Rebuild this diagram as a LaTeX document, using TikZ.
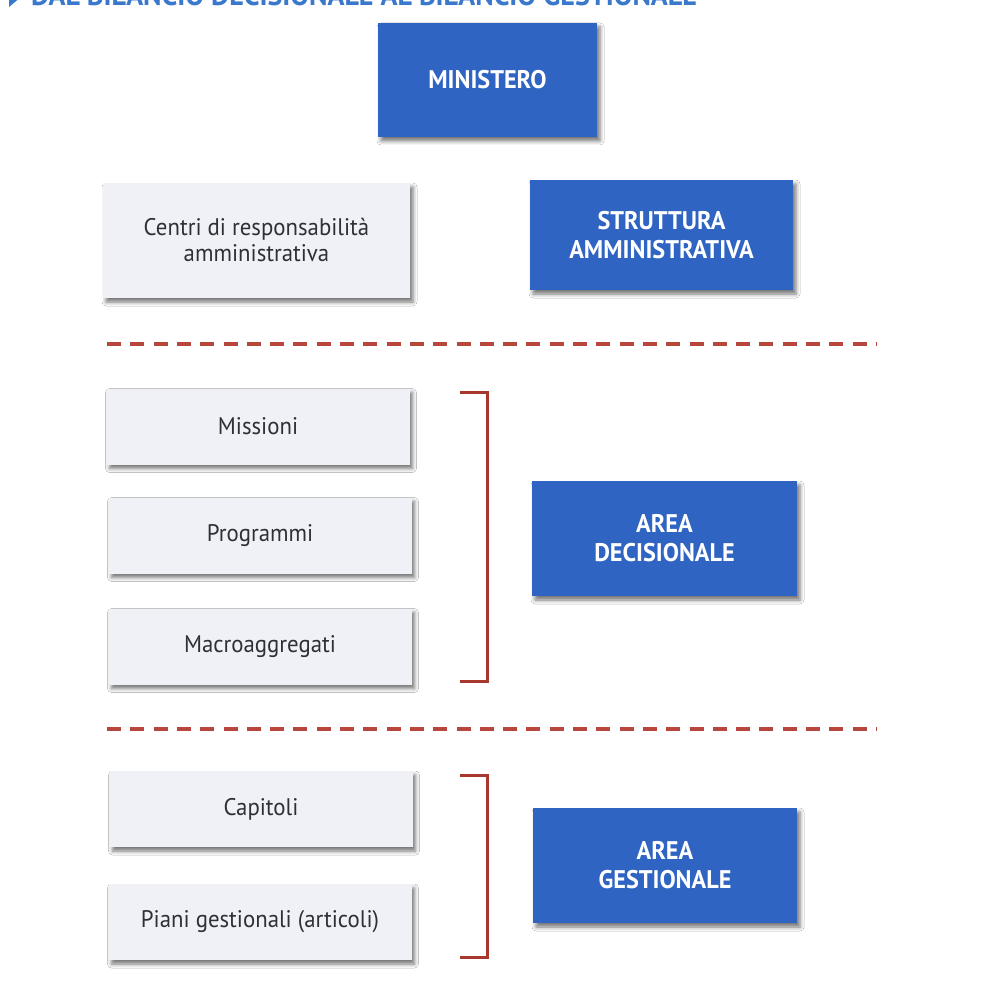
\documentclass[tikz,border=0pt]{standalone}
\usepackage{fontspec}
\setmainfont[FakeStretch=0.95]{PT Sans}
\usetikzlibrary{shadows.blur}

\definecolor{mblue}{HTML}{2F64C3}
\definecolor{titleblue}{HTML}{3A78CC}
\definecolor{lightbox}{HTML}{EFF1F6}
\definecolor{textgray}{HTML}{2E3035}
\definecolor{dashred}{HTML}{B8463A}
\definecolor{bracketred}{HTML}{A8382E}

\tikzset{
  boxshadow/.style={blur shadow={shadow xshift=3pt, shadow yshift=-4pt,
      shadow blur radius=4pt, shadow opacity=55}},
  bluebox/.style={boxshadow, fill=mblue, text=white, align=center,
      inner sep=0pt, font=\fontsize{25.5}{29}\selectfont\bfseries},
  lightbox/.style={boxshadow, fill=lightbox, text=textgray, align=center,
      inner sep=0pt, minimum width=303pt, minimum height=76pt,
      font=\fontsize{24}{26}\selectfont},
  divider/.style={dashred, line width=3.5pt, dash pattern=on 14pt off 9.3pt},
  bracket/.style={bracketred, line width=3pt},
}

\begin{document}
\begin{tikzpicture}[x=1pt, y=-1pt]
  \useasboundingbox (0,0) rectangle (991,984);
  \fill[white] (0,0) rectangle (991,984);

  % title strip, running off the top edge
  \fill[titleblue] (9,-12) -- (21,-3) -- (9,7) -- cycle;
  \node[anchor=base west, inner sep=0pt, text=titleblue,
        font=\fontsize{29.5}{30}\selectfont\bfseries] (title) at (31,6)
        {DAL BILANCIO DECISIONALE AL BILANCIO GESTIONALE};

  % blue headings
  \node[bluebox, minimum width=219pt, minimum height=114pt] (min) at (487.5,80) {MINISTERO};
  \node[bluebox, minimum width=263pt, minimum height=110pt] (strut) at (661.5,235)
        {STRUTTURA\\AMMINISTRATIVA};
  \node[bluebox, minimum width=265pt, minimum height=115pt] (adec) at (664.5,538.5)
        {AREA\\DECISIONALE};
  \node[bluebox, minimum width=264pt, minimum height=115pt] (ages) at (665,865.5)
        {AREA\\GESTIONALE};

  % light boxes
  \node[lightbox, minimum width=307pt, minimum height=115pt] (cra) at (256.5,240.5)
        {Centri di responsabilità\\amministrativa};
  \node[lightbox] (mis) at (258,426.5) {Missioni};
  \node[lightbox] (prog) at (260,535.5) {Programmi};
  \node[lightbox] (macro) at (260,646.5) {Macroaggregati};
  \node[lightbox] (cap) at (261,809) {Capitoli};
  \node[lightbox] (piani) at (260,922) {Piani gestionali (articoli)};

  % dashed separators
  \coordinate (d1a) at (107,344);  \coordinate (d1b) at (877,344);
  \coordinate (d2a) at (107,729);  \coordinate (d2b) at (877,729);
  \draw[divider] (d1a) -- (d1b);
  \draw[divider] (d2a) -- (d2b);

  % brackets grouping the left-hand boxes
  \coordinate (b1t) at (460,392);  \coordinate (b1b) at (460,681);
  \coordinate (b2t) at (460,775);  \coordinate (b2b) at (460,957);
  \draw[bracket] (b1t) -- ++(27,0) |- (b1b);
  \draw[bracket] (b2t) -- ++(27,0) |- (b2b);
\end{tikzpicture}
\end{document}
